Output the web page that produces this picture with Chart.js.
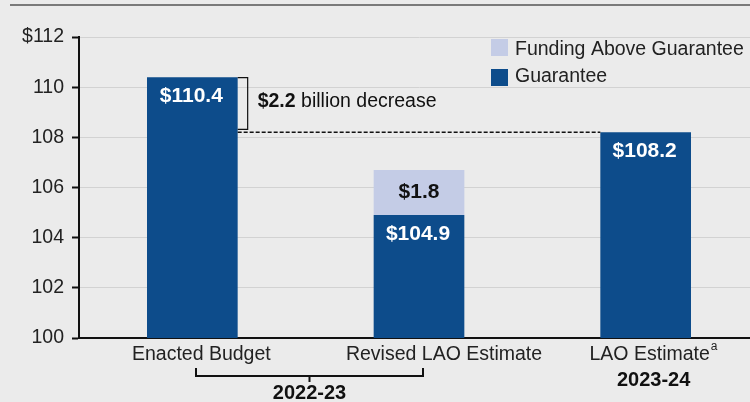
<!DOCTYPE html>
<html>
<head>
<meta charset="utf-8">
<script src="https://cdn.jsdelivr.net/npm/chart.js@4.4.0/dist/chart.umd.min.js"></script>
<style>
  html, body { margin: 0; padding: 0; background: #ebebeb; overflow: hidden; }
  #wrap { width: 759px; height: 402px; }
</style>
</head>
<body>
<div id="wrap"><canvas id="chart" width="759" height="402"></canvas></div>
<script>
// Chart data
const categories = ['Enacted Budget', 'Revised LAO Estimate', 'LAO Estimate'];
const guarantee = [110.4, 104.9, 108.2];
const aboveGuarantee = [null, 1.8, null];
const yTicks = [100, 102, 104, 106, 108, 110, 112];
const yearGroups = ['2022-23', '2023-24'];

const FONT = '"Liberation Sans", Arial, Helvetica, sans-serif';
const DARK = '#0d4c8b';
const LIGHT = '#c4cce6';

// Draws top rule, legend, value labels, bracket notes and category labels
const annotations = {
    id: 'annotations',
    afterDatasetsDraw(chart) {
        const ctx = chart.ctx;
        const x = chart.scales.x;
        const y = chart.scales.y;
        const gMeta = chart.getDatasetMeta(0);
        const aMeta = chart.getDatasetMeta(1);

        ctx.save();

        // top rule
        ctx.strokeStyle = '#555';
        ctx.lineWidth = 1.5;
        ctx.beginPath();
        ctx.moveTo(10, 5);
        ctx.lineTo(759, 5);
        ctx.stroke();

        // legend
        ctx.fillStyle = LIGHT;
        ctx.fillRect(491, 39, 17, 17);
        ctx.fillStyle = DARK;
        ctx.fillRect(491, 69, 17, 17);
        ctx.fillStyle = '#222';
        ctx.font = '19.5px ' + FONT;
        ctx.textAlign = 'left';
        ctx.textBaseline = 'middle';
        ctx.fillText(chart.data.datasets[1].label, 515, 50);
        ctx.fillText(chart.data.datasets[0].label, 515, 77);

        // value labels inside bars
        ctx.font = 'bold 21px ' + FONT;
        ctx.textAlign = 'center';
        gMeta.data.forEach((bar, i) => {
            ctx.fillStyle = '#fff';
            ctx.fillText('$' + guarantee[i].toFixed(1), bar.x - 1, bar.y + 19);
        });
        aMeta.data.forEach((bar, i) => {
            if (aboveGuarantee[i] == null) return;
            ctx.fillStyle = '#111';
            ctx.fillText('$' + aboveGuarantee[i].toFixed(1), bar.x, (bar.y + bar.base) / 2);
        });

        // $2.2 billion decrease bracket
        const b0 = gMeta.data[0];
        const b2 = gMeta.data[2];
        const right0 = b0.x + b0.width / 2;
        const yTop = y.getPixelForValue(guarantee[0]);
        const yLow = y.getPixelForValue(guarantee[2]);
        ctx.strokeStyle = '#111';
        ctx.lineWidth = 1.2;
        ctx.beginPath();
        ctx.moveTo(right0, yTop + 0.5);
        ctx.lineTo(right0 + 10, yTop + 0.5);
        ctx.lineTo(right0 + 10, yLow - 3);
        ctx.lineTo(right0, yLow - 3);
        ctx.stroke();

        ctx.lineWidth = 1.5;
        ctx.setLineDash([4, 2]);
        ctx.beginPath();
        ctx.moveTo(right0, yLow);
        ctx.lineTo(b2.x - b2.width / 2, yLow);
        ctx.stroke();
        ctx.setLineDash([]);

        const diff = (guarantee[0] - guarantee[2]).toFixed(1);
        ctx.textAlign = 'left';
        ctx.fillStyle = '#111';
        ctx.font = 'bold 19.5px ' + FONT;
        const boldTxt = '$' + diff;
        ctx.fillText(boldTxt, right0 + 20, 102);
        const w = ctx.measureText(boldTxt).width;
        ctx.font = '19.5px ' + FONT;
        ctx.fillText(' billion decrease', right0 + 20 + w, 102);

        // category labels
        ctx.fillStyle = '#222';
        ctx.font = '19.5px ' + FONT;
        ctx.textAlign = 'center';
        const offsets = [9, 25, 4];
        categories.forEach((c, i) => {
            ctx.fillText(c, x.getPixelForValue(i) + offsets[i], 355);
        });
        // superscript a
        const lx = x.getPixelForValue(2) + offsets[2];
        const lw = ctx.measureText(categories[2]).width;
        ctx.font = '12px ' + FONT;
        ctx.textAlign = 'left';
        ctx.fillText('a', lx + lw / 2 + 1, 347);

        // year bracket for first two bars
        const bx1 = 196, bx2 = 423, by = 376;
        ctx.strokeStyle = '#111';
        ctx.lineWidth = 2;
        ctx.beginPath();
        ctx.moveTo(bx1, 368);
        ctx.lineTo(bx1, by);
        ctx.lineTo(bx2, by);
        ctx.lineTo(bx2, 368);
        ctx.moveTo((bx1 + bx2) / 2, by);
        ctx.lineTo((bx1 + bx2) / 2, 382);
        ctx.stroke();

        ctx.fillStyle = '#111';
        ctx.font = 'bold 20px ' + FONT;
        ctx.textAlign = 'center';
        ctx.fillText(yearGroups[0], (bx1 + bx2) / 2, 393);
        ctx.fillText(yearGroups[1], x.getPixelForValue(2) + 8, 380);

        ctx.restore();
    }
};

const ctx = document.getElementById('chart').getContext('2d');
new Chart(ctx, {
    type: 'bar',
    data: {
        labels: categories,
        datasets: [
            {
                label: 'Guarantee',
                data: guarantee,
                backgroundColor: DARK,
                categoryPercentage: 1,
                barPercentage: 0.4
            },
            {
                label: 'Funding Above Guarantee',
                data: aboveGuarantee,
                backgroundColor: LIGHT,
                categoryPercentage: 1,
                barPercentage: 0.4
            }
        ]
    },
    options: {
        responsive: false,
        animation: false,
        layout: { padding: { top: 37, right: 0, bottom: 0, left: 0 } },
        plugins: {
            legend: { display: false },
            tooltip: { enabled: false }
        },
        scales: {
            x: {
                stacked: true,
                grid: { display: false },
                border: { color: '#111', width: 2 },
                ticks: { display: false },
                afterFit: function (scale) { scale.height = 64; }
            },
            y: {
                stacked: true,
                min: 100,
                max: 112,
                afterBuildTicks: function (scale) {
                    scale.ticks = yTicks.map(v => ({ value: v }));
                },
                grid: {
                    color: '#d2d2d2',
                    lineWidth: 1,
                    tickLength: 7,
                    tickColor: '#111',
                    tickWidth: 2
                },
                border: { color: '#111', width: 2 },
                ticks: {
                    color: '#222',
                    padding: 8,
                    font: { family: FONT, size: 19.5 },
                    callback: function (v) { return v === 112 ? '$' + v : v; }
                },
                afterFit: function (scale) { scale.width = 79; }
            }
        }
    },
    plugins: [annotations]
});
</script>
</body>
</html>
